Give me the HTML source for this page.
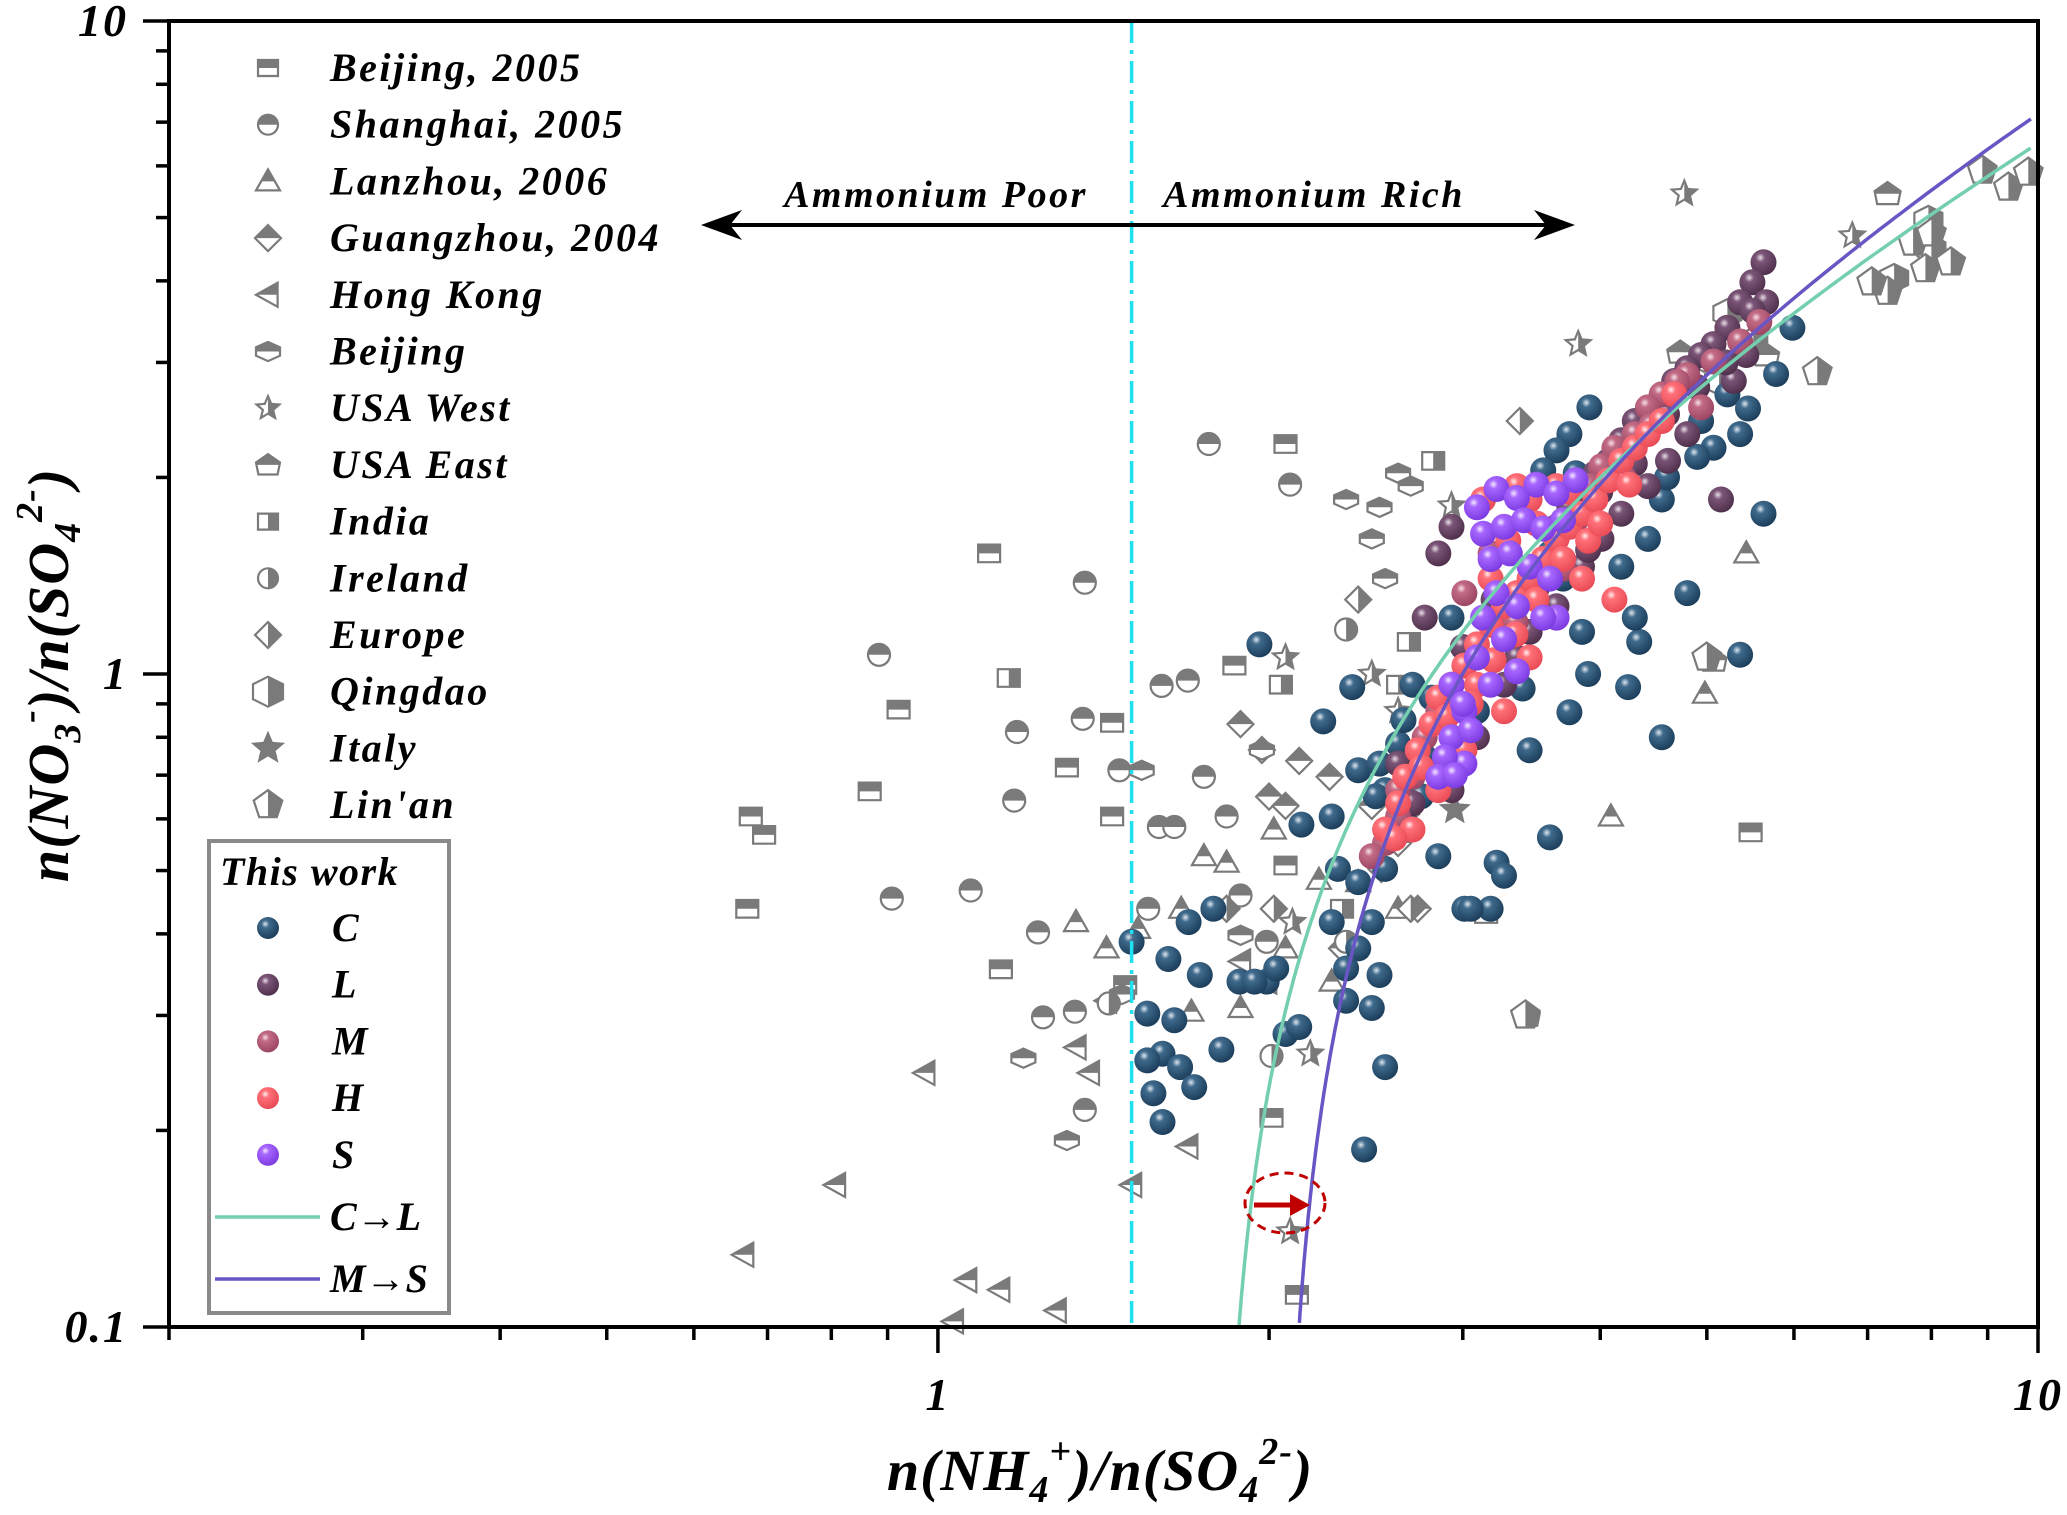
<!DOCTYPE html>
<html><head><meta charset="utf-8">
<style>
html,body{margin:0;padding:0;background:#fff;}
svg{display:block;}
text{font-family:"Liberation Serif",serif;font-weight:bold;font-style:italic;}
</style></head>
<body>
<svg id="chart" width="2067" height="1515" viewBox="0 0 2067 1515" xmlns="http://www.w3.org/2000/svg">
<defs>
<radialGradient id="gC" cx="0.38" cy="0.32" r="0.7"><stop offset="0" stop-color="#dfe7ef"/><stop offset="0.25" stop-color="#3f6a8c"/><stop offset="1" stop-color="#1b3d5a"/></radialGradient>
<radialGradient id="gL" cx="0.38" cy="0.32" r="0.7"><stop offset="0" stop-color="#eadfe8"/><stop offset="0.25" stop-color="#7b5577"/><stop offset="1" stop-color="#4e2f4b"/></radialGradient>
<radialGradient id="gM" cx="0.38" cy="0.32" r="0.7"><stop offset="0" stop-color="#f6e3ea"/><stop offset="0.25" stop-color="#c36b85"/><stop offset="1" stop-color="#9a4563"/></radialGradient>
<radialGradient id="gH" cx="0.38" cy="0.32" r="0.7"><stop offset="0" stop-color="#fff0f0"/><stop offset="0.25" stop-color="#ff7078"/><stop offset="1" stop-color="#e84a55"/></radialGradient>
<radialGradient id="gS" cx="0.38" cy="0.32" r="0.7"><stop offset="0" stop-color="#f3e9ff"/><stop offset="0.25" stop-color="#a866ff"/><stop offset="1" stop-color="#7a3ae0"/></radialGradient>
</defs>
<g id="greyLayer"></g>
<g id="workLayer"></g>
<g id="curveLayer"></g>
<g id="axes"></g>
<g id="legend"></g>
</svg>
<script>
// ---- data ----
const xLimits = [0.2, 10];
const yLimits = [0.1, 10];
const xTickLabels = ["1", "10"];
const yTickLabels = ["0.1", "1", "10"];
const bj2005 = [[0.676,0.605],[0.695,0.567],[0.671,0.437],[0.867,0.661],[0.921,0.882],[1.113,1.53],[1.141,0.353],[1.31,0.719],[1.44,0.842],[1.44,0.605],[1.86,1.03],[2.07,2.25],[3.15,0.429],[5.48,0.572],[2.12,0.112],[2.01,0.209],[2.07,0.509],[1.48,0.334]];
const sh2005 = [[0.884,1.07],[0.908,0.453],[1.071,0.466],[1.18,0.815],[1.173,0.64],[1.233,0.402],[1.246,0.298],[1.332,0.304],[1.36,1.38],[1.36,0.215],[1.354,0.854],[1.462,0.712],[1.597,0.959],[1.687,0.977],[1.763,2.25],[2.09,1.95],[1.588,0.583],[1.64,0.583],[1.553,0.437],[1.745,0.696],[1.83,0.605],[1.99,0.389],[1.884,0.458]];
const lz2006 = [[1.335,0.417],[1.423,0.38],[1.52,0.407],[1.664,0.437],[1.745,0.526],[1.83,0.514],[2.02,0.578],[2.07,0.38],[2.22,0.484],[2.41,0.48],[2.62,0.437],[2.28,0.338],[5.43,1.53],[4.98,0.933],[4.09,0.605],[1.7,0.304],[1.884,0.308]];
const gz2004 = [[1.884,0.838],[1.97,0.765],[2.13,0.736],[2.27,0.696],[2.0,0.649],[2.07,0.628],[2.48,0.628],[2.62,0.551],[2.73,0.437],[2.33,0.38],[2.53,0.503]];
const hongKong = [[0.666,0.129],[0.807,0.165],[0.973,0.245],[1.062,0.118],[1.138,0.114],[1.281,0.106],[1.033,0.102],[1.335,0.268],[1.373,0.245],[1.687,0.189],[1.884,0.363],[1.99,0.338],[1.5,0.165],[1.423,0.316]];
const beijing = [[1.31,0.193],[1.196,0.258],[1.47,0.323],[1.532,0.712],[1.783,0.437],[1.884,0.398],[1.97,0.765],[2.35,1.85],[2.52,1.8],[2.55,1.40],[2.62,2.03],[2.69,1.94],[2.48,1.61]];
const usaWest = [[4.77,5.44],[3.82,3.2],[2.93,1.81],[2.07,1.06],[2.48,1.0],[2.62,0.877],[2.1,0.417],[2.18,0.262],[2.09,0.14],[6.78,4.69]];
const usaEast = [[7.3,5.44],[5.22,3.57],[5.07,1.05],[3.43,0.30],[4.73,3.11],[5.66,3.08]];
const india = [[2.82,2.12],[2.68,1.12],[2.62,0.963],[2.33,0.437],[1.16,0.986],[2.05,0.963]];
const ireland = [[2.35,1.17],[2.35,0.389],[2.01,0.26],[1.43,0.313]];
const europe = [[3.38,2.44],[2.41,1.30],[2.69,0.437],[2.02,0.437],[1.83,0.437]];
const qingdao = [[5.22,3.57],[5.51,3.23],[5.13,2.81],[4.97,3.05],[7.4,4.04],[7.95,4.96],[8.0,4.47]];
const italy = [[2.95,0.62],[2.66,0.6]];
const linan = [[8.9,5.9],[9.4,5.56],[9.8,5.86],[7.3,3.85],[7.7,4.58],[7.9,4.17],[7.06,3.98],[8.0,4.73],[8.33,4.27],[6.3,2.9],[5.0,1.06],[3.42,0.30]];
const seriesC = [[1.96,1.11],[2.38,0.955],[2.24,0.846],[2.14,0.588],[2.41,0.712],[2.52,0.729],[2.62,0.782],[2.77,0.746],[2.66,0.591],[2.85,0.526],[3.01,0.437],[3.18,0.437],[2.55,0.503],[2.48,0.417],[2.41,0.38],[2.35,0.354],[2.52,0.346],[2.48,0.308],[2.35,0.316],[2.55,0.25],[2.44,0.187],[1.99,0.338],[1.88,0.338],[1.73,0.346],[1.78,0.437],[1.69,0.417],[1.62,0.366],[1.50,0.389],[1.55,0.302],[1.64,0.295],[1.60,0.262],[1.55,0.256],[1.57,0.228],[1.66,0.25],[1.71,0.233],[1.60,0.206],[1.81,0.266],[2.07,0.281],[2.13,0.288],[1.94,0.338],[2.03,0.354],[2.28,0.417],[3.05,0.437],[3.22,0.514],[3.27,0.491],[3.60,0.562],[3.75,0.874],[4.24,0.955],[4.34,1.12],[5.36,1.07],[5.63,1.76],[5.07,2.22],[4.55,0.80],[4.30,1.22],[3.85,1.16],[3.70,1.40],[3.60,1.53],[3.75,2.33],[3.91,2.56],[3.80,2.03],[3.45,0.764],[3.09,0.877],[3.27,1.16],[2.93,1.22],[2.81,0.92],[2.70,0.963],[2.55,0.664],[2.28,0.605],[2.31,0.503],[5.98,3.39],[5.78,2.88],[5.36,2.33],[4.94,2.44],[4.42,1.61],[4.18,1.46],[4.80,1.33],[4.55,1.85],[5.22,2.68],[2.41,0.48],[3.65,2.20],[3.55,2.05],[4.9,2.15],[5.45,2.55],[4.6,2.0],[3.9,1.0],[3.4,0.95],[2.65,0.85],[2.5,0.65],[2.75,0.65]];
const seriesL = [[5.63,4.27],[5.5,3.98],[5.36,3.71],[5.22,3.39],[5.07,3.20],[4.94,3.08],[4.80,2.94],[4.67,2.81],[4.55,2.68],[4.42,2.54],[4.30,2.44],[4.18,2.28],[4.07,2.12],[3.96,2.03],[3.85,1.92],[3.75,1.80],[3.65,1.68],[5.15,1.85],[4.80,2.33],[4.61,2.12],[4.42,1.94],[4.18,1.76],[4.01,1.61],[3.85,1.46],[3.65,1.27],[3.45,1.16],[3.36,1.06],[3.27,0.963],[3.09,0.80],[2.93,1.68],[2.85,1.53],[2.77,1.22],[2.70,0.634],[2.62,0.729],[2.93,0.664],[5.29,2.81],[5.66,3.71],[5.43,3.08],[5.5,3.6],[5.2,3.0],[4.9,2.75],[4.6,2.5],[4.3,2.1],[4.0,1.9],[3.9,1.55],[3.5,1.35],[3.2,1.3],[3.0,1.1]];
const seriesM = [[5.58,3.46],[5.36,3.23],[5.07,3.01],[4.80,2.87],[4.55,2.68],[4.42,2.56],[4.30,2.33],[4.12,2.22],[4.01,2.08],[3.91,1.94],[3.80,1.72],[3.65,1.61],[3.55,1.46],[3.45,1.33],[3.27,1.22],[3.09,1.06],[2.93,0.963],[2.85,0.877],[2.77,0.80],[2.70,0.696],[2.62,0.605],[2.55,0.551],[2.48,0.526],[2.62,0.664],[3.01,1.33],[3.18,1.53],[4.94,2.56],[4.7,2.8],[4.45,2.4],[4.2,2.0],[3.7,1.45],[3.35,1.2]];
const seriesH = [[2.55,0.578],[2.62,0.634],[2.66,0.696],[2.73,0.764],[2.81,0.838],[2.85,0.92],[2.93,0.963],[3.01,1.03],[3.09,1.11],[3.18,1.19],[3.27,1.27],[3.36,1.33],[3.45,1.40],[3.55,1.50],[3.65,1.61],[3.75,1.68],[3.85,1.76],[3.96,1.85],[4.07,1.98],[4.18,2.12],[4.30,2.22],[4.42,2.33],[4.55,2.44],[4.67,2.68],[3.36,1.94],[3.45,1.85],[3.18,1.40],[3.27,0.877],[3.45,1.06],[3.65,1.22],[2.93,0.80],[3.09,0.963],[3.85,1.40],[4.12,1.30],[2.70,0.578],[2.85,0.664],[3.01,0.764],[3.27,1.68],[3.13,1.85],[3.65,1.94],[2.6,0.56],[2.75,0.72],[2.9,0.86],[3.05,0.9],[3.2,1.05],[3.35,1.15],[3.5,1.3],[3.7,1.5],[3.9,1.6],[4.0,1.7],[4.25,1.95],[3.3,1.6],[3.5,1.7],[3.75,1.9]];
const seriesS = [[3.09,1.80],[3.22,1.92],[3.36,1.86],[3.50,1.95],[3.65,1.89],[3.80,1.98],[3.13,1.64],[3.27,1.68],[3.41,1.72],[3.55,1.67],[3.70,1.72],[3.18,1.50],[3.31,1.53],[3.45,1.46],[3.60,1.40],[3.22,1.33],[3.36,1.27],[3.27,1.13],[3.65,1.22],[3.13,1.22],[3.09,1.06],[3.01,0.877],[2.93,0.80],[3.01,0.729],[2.89,0.746],[2.85,0.696],[2.93,0.963],[3.18,0.963],[3.36,1.01],[3.55,1.22],[3.0,0.9],[2.95,0.7],[3.05,0.82]];
// fitted curves y = a*(x-b)^c
const curveCL = [0.986, 1.8, 0.896];
const curveMS = [1.05, 2.05, 0.929];
const thresholdX = [1.5];

// ---- axes functions ----
const L=169,R=2038,T=21,B=1327;
function X(v){return L+(R-L)*(Math.log10(v)-Math.log10(xLimits[0]))/(Math.log10(xLimits[1])-Math.log10(xLimits[0]));}
function Y(v){return B-(B-T)*(Math.log10(v)-Math.log10(yLimits[0]))/(Math.log10(yLimits[1])-Math.log10(yLimits[0]));}
const NS="http://www.w3.org/2000/svg";
function mk(tag,attrs,parent){const e=document.createElementNS(NS,tag);for(const k in attrs)e.setAttribute(k,attrs[k]);if(parent)parent.appendChild(e);return e;}

function shapePath(type,s){
  const h=s/2;
  switch(type){
    case 'square': return `M${-h},${-h*0.8}H${h}V${h*0.8}H${-h}Z`;
    case 'circle': return `M${-h},0A${h},${h} 0 1 0 ${h},0A${h},${h} 0 1 0 ${-h},0Z`;
    case 'triangle': return `M0,${-h}L${h},${h*0.75}L${-h},${h*0.75}Z`;
    case 'diamond': return `M0,${-h}L${h},0L0,${h}L${-h},0Z`;
    case 'ltri': return `M${-h},0L${h*0.8},${-h}L${h*0.8},${h}Z`;
    case 'hex': return `M${-h},${-h*0.35}L0,${-h*0.8}L${h},${-h*0.35}L${h},${h*0.35}L0,${h*0.8}L${-h},${h*0.35}Z`;
    case 'star': {let p='';for(let i=0;i<10;i++){const r=i%2?h*0.45:h;const a=-Math.PI/2+i*Math.PI/5;p+=(i?'L':'M')+(r*Math.cos(a)).toFixed(1)+','+(r*Math.sin(a)).toFixed(1);}return p+'Z';}
    case 'house': return `M0,${-h*0.9}L${h},${-h*0.2}L${h*0.8},${h*0.8}L${-h*0.8},${h*0.8}L${-h},${-h*0.2}Z`;
    case 'bighex': return `M${-h},${-h*0.5}L0,${-h}L${h},${-h*0.5}L${h},${h*0.5}L0,${h}L${-h},${h*0.5}Z`;
    case 'pent': {let p='';for(let i=0;i<5;i++){const a=-Math.PI/2+i*2*Math.PI/5;p+=(i?'L':'M')+(h*Math.cos(a)).toFixed(1)+','+(h*Math.sin(a)).toFixed(1);}return p+'Z';}
  }
}
let clipId=0;
function halfMarker(parent,cx,cy,type,s,half){
  const g=mk('g',{transform:`translate(${cx.toFixed(1)},${cy.toFixed(1)})`},parent);
  const d=shapePath(type,s);
  mk('path',{d:d,fill:'#fff',stroke:'#7a7a7a','stroke-width':2.2},g);
  const id='cp'+(clipId++);
  const cp=mk('clipPath',{id:id},g);
  const h=s;
  if(half==='top') mk('rect',{x:-h,y:-h,width:2*h,height:h},cp);
  else if(half==='right') mk('rect',{x:0,y:-h,width:h,height:2*h},cp);
  else if(half==='full') mk('rect',{x:-h,y:-h,width:2*h,height:2*h},cp);
  mk('path',{d:d,fill:'#7a7a7a','clip-path':`url(#${id})`},g);
  return g;
}

const greyLayer=document.getElementById('greyLayer');
const greySets=[
 [bj2005,'square','top','beijing-2005-points',22],
 [sh2005,'circle','top','shanghai-2005-points',22],
 [lz2006,'triangle','top','lanzhou-2006-points',24],
 [gz2004,'diamond','top','guangzhou-2004-points',26],
 [hongKong,'ltri','top','hong-kong-points',24],
 [beijing,'hex','top','beijing-points',24],
 [usaWest,'star','right','usa-west-points',26],
 [usaEast,'house','top','usa-east-points',26],
 [india,'square','right','india-points',22],
 [ireland,'circle','right','ireland-points',22],
 [europe,'diamond','right','europe-points',26],
 [qingdao,'bighex','right','qingdao-points',28],
 [italy,'star','full','italy-points',28],
 [linan,'pent','right','linan-points',30]
];
greySets.forEach(([arr,type,half,name,s])=>{
  const g=mk('g',{},greyLayer);
  
  
  arr.forEach(p=>{
    const m=halfMarker(g,X(p[0]),Y(p[1]),type,s,half);
    
    
  });
});

const workLayer=document.getElementById('workLayer');
[[seriesC,'gC','series-c-points'],[seriesL,'gL','series-l-points'],[seriesM,'gM','series-m-points'],[seriesH,'gH','series-h-points'],[seriesS,'gS','series-s-points']].forEach(([arr,grad,name])=>{
  const g=mk('g',{},workLayer);
  
  
  arr.forEach(p=>{
    const c=mk('circle',{cx:X(p[0]).toFixed(1),cy:Y(p[1]).toFixed(1),r:13,fill:`url(#${grad})`},g);
    
    
  });
});

const curveLayer=document.getElementById('curveLayer');
function drawCurve(coef,color,name){
  const [a,b,c]=coef;
  let d='';let started=false;
  for(let i=0;i<=600;i++){
    const x=b+Math.pow(10,-4+i*(Math.log10(xLimits[1]-b)+4)/600);
    const y=a*Math.pow(x-b,c);
    if(y<yLimits[0]||x>xLimits[1])continue;
    d+=(started?'L':'M')+X(x).toFixed(1)+','+Y(y).toFixed(1);started=true;
  }
  const p=mk('path',{d:d,fill:'none',stroke:color,'stroke-width':3.5},curveLayer);
  
  
}
drawCurve(curveCL,'#74cfae','curve-c-to-l');
drawCurve(curveMS,'#6a55c4','curve-m-to-s');
const th=mk('line',{x1:X(thresholdX[0]),x2:X(thresholdX[0]),y1:T,y2:B,stroke:'#1ee0f0','stroke-width':3.5,'stroke-dasharray':'22,7,4,7'},curveLayer);



const ax=document.getElementById('axes');
mk('rect',{x:L,y:T,width:R-L,height:B-T,fill:'none',stroke:'#000','stroke-width':4},ax);
for(let dec=-1;dec<=0;dec++){for(let k=1;k<=9;k++){const v=k*Math.pow(10,dec);if(v<xLimits[0]-1e-9)continue;const xx=X(v);mk('line',{x1:xx,x2:xx,y1:B,y2:B+(k===1?26:13),stroke:'#000','stroke-width':3.5},ax);}}
mk('line',{x1:R,x2:R,y1:B,y2:B+26,stroke:'#000','stroke-width':3.5},ax);
for(let dec=-1;dec<=0;dec++){for(let k=1;k<=9;k++){const v=k*Math.pow(10,dec);const yy=Y(v);mk('line',{x1:L,x2:L-(k===1?26:13),y1:yy,y2:yy,stroke:'#000','stroke-width':3.5},ax);}}
mk('line',{x1:L,x2:L-26,y1:T,y2:T,stroke:'#000','stroke-width':3.5},ax);
const xtv=[1,10];
xTickLabels.forEach((t,i)=>{const e=mk('text',{x:X(xtv[i]),y:1410,'font-size':46,'text-anchor':'middle','letter-spacing':2},ax);e.textContent=t;});
const ytv=[0.1,1,10];
yTickLabels.forEach((t,i)=>{const e=mk('text',{x:128,y:Y(ytv[i])+15,'font-size':46,'text-anchor':'end','letter-spacing':2},ax);e.textContent=t;});
</script>
<svg style="position:absolute;left:0;top:0" width="2067" height="1515">
<g font-family="Liberation Serif, serif" font-weight="bold" font-style="italic">
<text x="1100" y="1490" font-size="58" text-anchor="middle" letter-spacing="1">n(NH<tspan font-size="38" baseline-shift="-12">4</tspan><tspan font-size="38" baseline-shift="26">+</tspan>)/n(SO<tspan font-size="38" baseline-shift="-12">4</tspan><tspan font-size="38" baseline-shift="26">2-</tspan>)</text>
<text transform="translate(68,675) rotate(-90)" font-size="58" text-anchor="middle" letter-spacing="1">n(NO<tspan font-size="38" baseline-shift="-12">3</tspan><tspan font-size="38" baseline-shift="26">-</tspan>)/n(SO<tspan font-size="38" baseline-shift="-12">4</tspan><tspan font-size="38" baseline-shift="26">2-</tspan>)</text>
<text x="936" y="207" font-size="38" text-anchor="middle" letter-spacing="2.5">Ammonium Poor</text>
<text x="1314" y="207" font-size="38" text-anchor="middle" letter-spacing="2.5">Ammonium Rich</text>
<g>
<line x1="715" y1="225" x2="1560" y2="225" stroke="#000" stroke-width="4"/>
<path d="M701,225 L742,210 L730,225 L742,240 Z" fill="#000"/>
<path d="M1575,225 L1534,210 L1546,225 L1534,240 Z" fill="#000"/>
</g>
<ellipse cx="1285" cy="1203" rx="40" ry="30" fill="none" stroke="#c00000" stroke-width="3" stroke-dasharray="9,6"/>
<g>
<line x1="1254" y1="1205" x2="1296" y2="1205" stroke="#c00000" stroke-width="5"/>
<path d="M1310,1205 L1290,1194 L1290,1216 Z" fill="#c00000"/>
</g>
</g>
</svg>
<script>
(function(){
const lg=document.getElementById('legend');
const NS="http://www.w3.org/2000/svg";
function mk(tag,attrs,parent){const e=document.createElementNS(NS,tag);for(const k in attrs)e.setAttribute(k,attrs[k]);if(parent)parent.appendChild(e);return e;}
const names=["Beijing, 2005","Shanghai, 2005","Lanzhou, 2006","Guangzhou, 2004","Hong Kong","Beijing","USA West","USA East","India","Ireland","Europe","Qingdao","Italy","Lin'an"];
const shapes=[['square','top',20],['circle','top',20],['triangle','top',24],['diamond','top',26],['ltri','top',24],['hex','top',24],['star','right',24],['house','top',24],['square','right',20],['circle','right',20],['diamond','right',26],['bighex','right',30],['star','full',30],['pent','right',30]];
names.forEach((n,i)=>{
  const y=68+i*56.7;
  const g=mk('g',{},lg);
  
  
  halfMarker(g,268,y,shapes[i][0],shapes[i][2],shapes[i][1]);
  const t=mk('text',{x:330,y:y+13,'font-size':40,'letter-spacing':2.5},g);t.textContent=n;
});
const box=mk('rect',{x:209,y:841,width:240,height:472,fill:'#fff',stroke:'#8a8a8a','stroke-width':4},lg);


const tt=mk('text',{x:220,y:885,'font-size':40,'letter-spacing':1.5},lg);tt.textContent='This work';
const work=[['C','gC'],['L','gL'],['M','gM'],['H','gH'],['S','gS']];
work.forEach((w,i)=>{
  const y=928+i*56.7;
  const g=mk('g',{},lg);
  
  
  mk('circle',{cx:268,cy:y,r:11,fill:`url(#${w[1]})`},g);
  const t=mk('text',{x:332,y:y+13,'font-size':40},g);t.textContent=w[0];
});
[['C→L','#74cfae',1217],['M→S','#6a55c4',1279]].forEach(w=>{
  const g=mk('g',{},lg);
  
  
  mk('line',{x1:215,x2:320,y1:w[2],y2:w[2],stroke:w[1],'stroke-width':3.5},g);
  const t=mk('text',{x:330,y:w[2]+13,'font-size':40},g);t.textContent=w[0];
});
})();
</script>
</body></html>
